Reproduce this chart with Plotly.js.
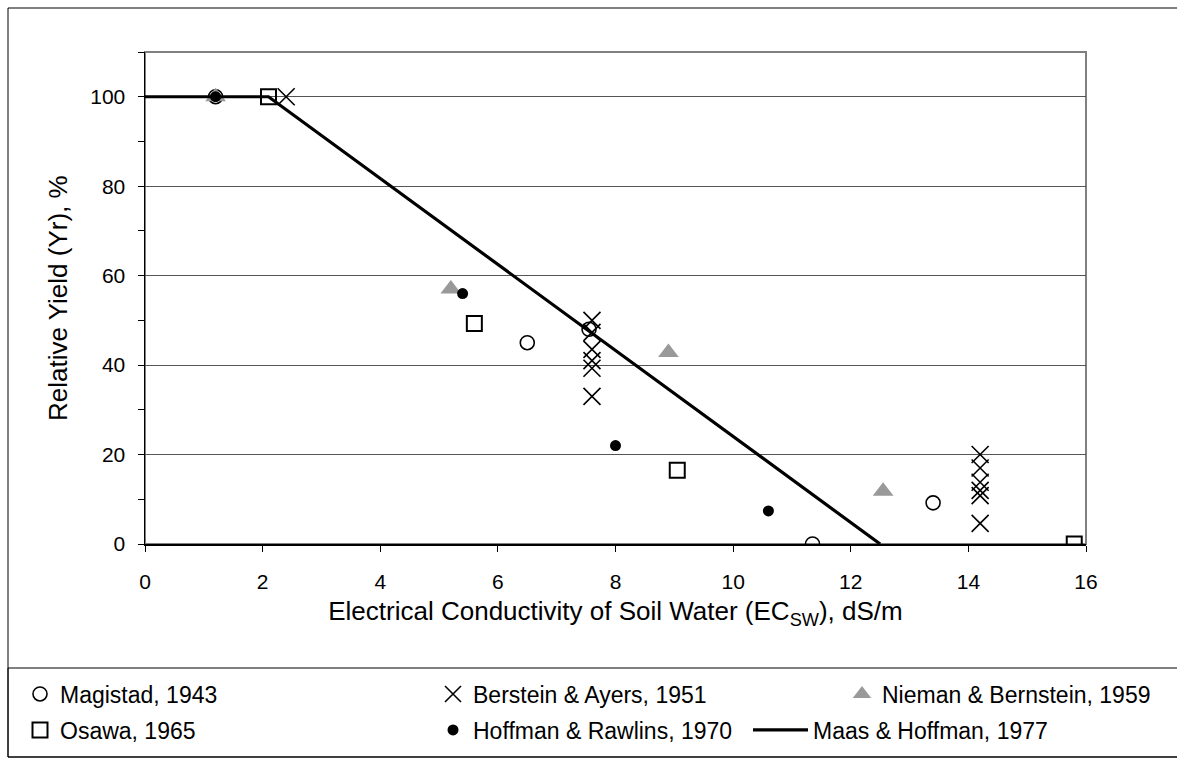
<!DOCTYPE html>
<html>
<head>
<meta charset="utf-8">
<script src="https://cdn.plot.ly/plotly-3.0.1.min.js"></script>
<style>html,body{margin:0;padding:0;background:#fff;}#chart{width:1177px;height:761px;}</style>
</head>
<body>
<div id="chart"></div>
<script>
// Data
const magistadX = [1.2, 7.55, 6.5, 11.35, 13.4];
const magistadY = [100, 48, 45, 0, 9.2];

const bersteinX = [2.4, 7.6, 7.6, 7.6, 7.6, 7.6, 7.6, 14.2, 14.2, 14.2, 14.2, 14.2, 14.2];
const bersteinY = [100, 50, 47.3, 43.5, 41, 39.3, 33, 20, 17, 13.8, 12, 10.8, 4.6];

const niemanX = [1.2, 5.2, 8.9, 12.55];
const niemanY = [100, 57, 42.8, 11.8];

const osawaX = [2.1, 5.6, 9.05, 15.8];
const osawaY = [100, 49.3, 16.5, 0];

const hoffmanX = [1.2, 5.4, 8.0, 10.6];
const hoffmanY = [100, 56, 22, 7.4];

const maasX = [0, 2.1, 12.5];
const maasY = [100, 100, 0];

const seriesNames = ["Magistad, 1943", "Berstein & Ayers, 1951", "Nieman & Bernstein, 1959",
                     "Osawa, 1965", "Hoffman & Rawlins, 1970", "Maas & Hoffman, 1977"];
const xTitle = "Electrical Conductivity of Soil Water (EC<sub>SW</sub>), dS/m";
const yTitle = "Relative Yield (Yr), %";

const FONT = "Liberation Sans, Arial, sans-serif";
const W = 1177, H = 761;
const LEGFONT = 23, TICKFONT = 21, TITLEFONT = 26;

const traces = [
  {x: magistadX, y: magistadY, name: seriesNames[0], type: "scatter", mode: "markers", legend: "legend",
   marker: {symbol: "circle-open", size: 14, color: "#000", line: {color: "#000", width: 1.6}}},
  {x: bersteinX, y: bersteinY, name: seriesNames[1], type: "scatter", mode: "markers", legend: "legend2",
   marker: {symbol: "x-thin-open", size: 17, color: "#000", line: {color: "#000", width: 1.6}}},
  {x: niemanX, y: niemanY, name: seriesNames[2], type: "scatter", mode: "markers", legend: "legend3",
   marker: {symbol: "triangle-up", size: 18, color: "#999999", line: {width: 0}}},
  {x: osawaX, y: osawaY, name: seriesNames[3], type: "scatter", mode: "markers", legend: "legend4",
   marker: {symbol: "square-open", size: 15, color: "#000", line: {color: "#000", width: 2}}},
  {x: hoffmanX, y: hoffmanY, name: seriesNames[4], type: "scatter", mode: "markers", legend: "legend5",
   marker: {symbol: "circle", size: 11, color: "#000", line: {width: 0}}},
  {x: maasX, y: maasY, name: seriesNames[5], type: "scatter", mode: "lines", legend: "legend6",
   line: {color: "#000", width: 3.2}}
];

function leg(px, py, extra) {
  return Object.assign({
    xref: "container", yref: "container",
    x: px / W, y: 1 - py / H, xanchor: "left", yanchor: "middle",
    bgcolor: "rgba(0,0,0,0)", borderwidth: 0,
    font: {family: FONT, size: LEGFONT, color: "#000"}
  }, extra || {});
}

// paper coordinates helpers for frame shapes (plot area: x 145..1086, y 52..544)
const L = 145, R = 1086, T = 52, B = 544;
const px2paperX = p => (p - L) / (R - L);
const px2paperY = p => (B - p) / (B - T);

const layout = {
  width: W, height: H,
  paper_bgcolor: "#fff", plot_bgcolor: "#fff",
  margin: {l: L, r: W - R, t: T, b: H - B, pad: 0, autoexpand: false},
  font: {family: FONT, size: 20, color: "#000"},
  showlegend: true,
  xaxis: {
    range: [0, 16], dtick: 2, tick0: 0,
    showgrid: false, zeroline: false,
    showline: true, linecolor: "#000", linewidth: 1.5,
    ticks: "outside", ticklen: 6, tickcolor: "#000", tickwidth: 1,
    ticklabelstandoff: 12, automargin: false,
    tickfont: {family: FONT, size: TICKFONT, color: "#000"},
    title: {text: xTitle, font: {family: FONT, size: TITLEFONT, color: "#000"}, standoff: 10}
  },
  yaxis: {
    range: [0, 110], dtick: 20, tick0: 0,
    showgrid: true, gridcolor: "#555", gridwidth: 1,
    zeroline: false,
    showline: true, linecolor: "#000", linewidth: 1.5,
    ticks: "outside", ticklen: 6, tickcolor: "#000", tickwidth: 1,
    ticklabelstandoff: 8, automargin: false,
    minor: {dtick: 10, tick0: 0, ticks: "outside", ticklen: 6, tickcolor: "#000", tickwidth: 1, showgrid: false},
    tickfont: {family: FONT, size: TICKFONT, color: "#000"}
  },
  annotations: [
    {text: yTitle, textangle: -90, xref: "paper", yref: "paper",
     x: px2paperX(58), y: 0.5, xanchor: "center", yanchor: "middle", showarrow: false,
     font: {family: FONT, size: TITLEFONT, color: "#000"}}
  ],
  legend:  leg(20, 694),
  legend2: leg(433, 694),
  legend3: leg(842, 694),
  legend4: leg(20, 730),
  legend5: leg(433, 730),
  legend6: leg(748, 730, {itemwidth: 55}),
  shapes: [
    // plot area frame (gray, top and right visible)
    {type: "rect", xref: "paper", yref: "paper", x0: 0, x1: 1, y0: 0, y1: 1,
     line: {color: "#808080", width: 2}, layer: "below"},
    // outer chart border
    {type: "rect", xref: "paper", yref: "paper",
     x0: px2paperX(8), x1: px2paperX(1190), y0: px2paperY(757), y1: px2paperY(8),
     line: {color: "#000", width: 1}},
    // legend box
    {type: "rect", xref: "paper", yref: "paper",
     x0: px2paperX(8), x1: px2paperX(1190), y0: px2paperY(757), y1: px2paperY(668),
     line: {color: "#000", width: 1}}
  ]
};

Plotly.newPlot("chart", traces, layout, {displayModeBar: false, staticPlot: true});
</script>
</body>
</html>
